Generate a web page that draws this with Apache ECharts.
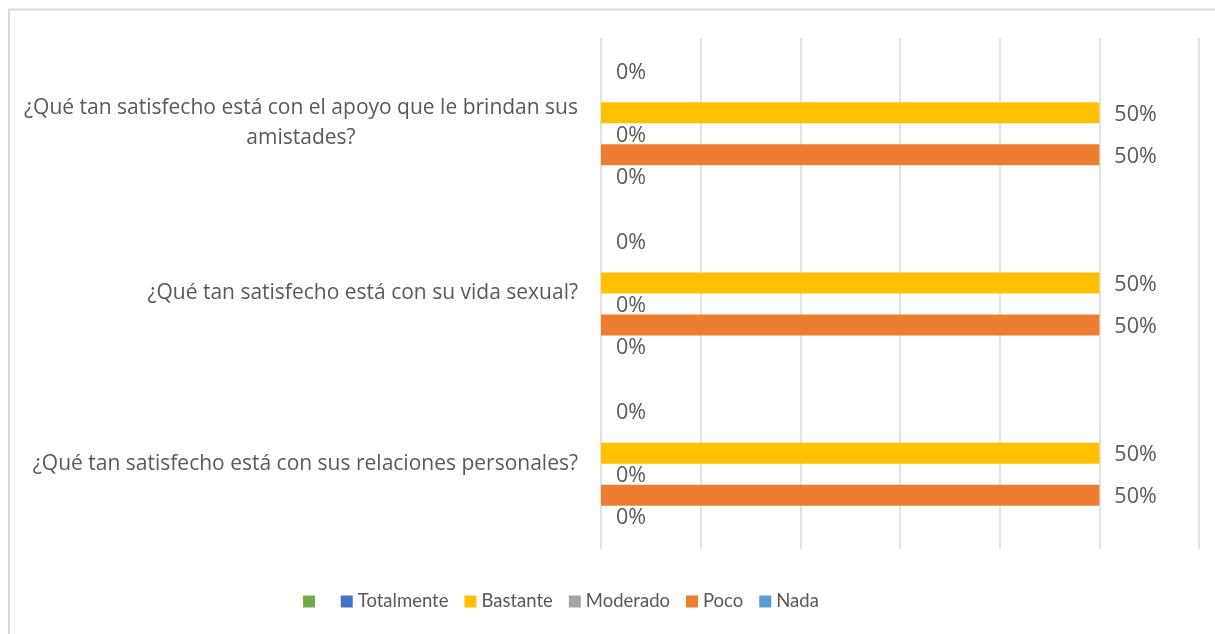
<!DOCTYPE html>
<html>
<head>
<meta charset="utf-8">
<script src="https://cdn.jsdelivr.net/npm/echarts@6/dist/echarts.min.js"></script>
<style>
    html, body { margin: 0; padding: 0; background: #fff; }
    #chart { width: 1215px; height: 634px; }
</style>
</head>
<body>
<div id="chart"></div>
<script>
// categories, top to bottom
const preguntas = [
    '¿Qué tan satisfecho está con el apoyo que le brindan sus\namistades?',
    '¿Qué tan satisfecho está con su vida sexual?',
    '¿Qué tan satisfecho está con sus relaciones personales?'
];

// share of answers per category (fraction)
const sinNombre = [0, 0, 0];
const totalmente = [0, 0, 0];
const bastante = [0.5, 0.5, 0.5];
const moderado = [0, 0, 0];
const poco = [0.5, 0.5, 0.5];
const nada = [0, 0, 0];

const gris = '#595959';
const fuente = 'Open Sans';

let chart = echarts.init(document.getElementById('chart'));

const pct = (p) => Math.round(p.value * 100) + '%';

function serie(name, data, color, withLabel) {
    return {
        name: name,
        type: 'bar',
        data: data,
        barGap: 0,
        barCategoryGap: '26%',
        itemStyle: { color: color },
        label: {
            show: withLabel,
            position: 'right',
            distance: 15,
            offset: [0, 2],
            formatter: pct,
            color: gris,
            fontFamily: fuente,
            fontSize: 21.5
        }
    };
}

chart.setOption({
    animation: false,
    graphic: [{
        type: 'rect',
        shape: { x: 9, y: 9.5, width: 1400, height: 800 },
        style: { fill: 'none', stroke: '#d9d9d9', lineWidth: 2 },
        silent: true
    }],
    grid: {
        left: 601,
        right: 16,
        top: 38,
        bottom: 85
    },
    legend: {
        bottom: 18,
        left: 298,
        itemWidth: 12,
        itemHeight: 12,
        itemGap: 16,
        icon: 'rect',
        textStyle: { color: gris, fontFamily: 'Lato', fontSize: 18.5 },
        data: [' ', 'Totalmente', 'Bastante', 'Moderado', 'Poco', 'Nada']
    },
    xAxis: {
        type: 'value',
        min: 0,
        max: 0.6,
        interval: 0.1,
        axisLabel: { show: false },
        axisLine: { show: false },
        axisTick: { show: false },
        splitLine: { lineStyle: { color: '#d9d9d9', width: 1.5 } }
    },
    yAxis: {
        type: 'category',
        inverse: true,
        data: preguntas,
        axisLine: { show: false },
        axisTick: { show: false },
        axisLabel: {
            margin: 23,
            color: gris,
            fontFamily: fuente,
            fontSize: 21,
            lineHeight: 30,
            formatter: (v) => v.split('\n').map(s => '{c|' + s + '}').join('\n'),
            rich: {
                c: { align: 'center', color: gris, fontFamily: fuente, fontSize: 21, lineHeight: 30 }
            }
        }
    },
    series: [
        serie(' ', sinNombre, '#70AD47', true),
        serie('Totalmente', totalmente, '#4472C4', false),
        serie('Bastante', bastante, '#FFC000', true),
        serie('Moderado', moderado, '#A5A5A5', true),
        serie('Poco', poco, '#ED7D31', true),
        serie('Nada', nada, '#5B9BD5', true)
    ]
});
</script>
</body>
</html>
